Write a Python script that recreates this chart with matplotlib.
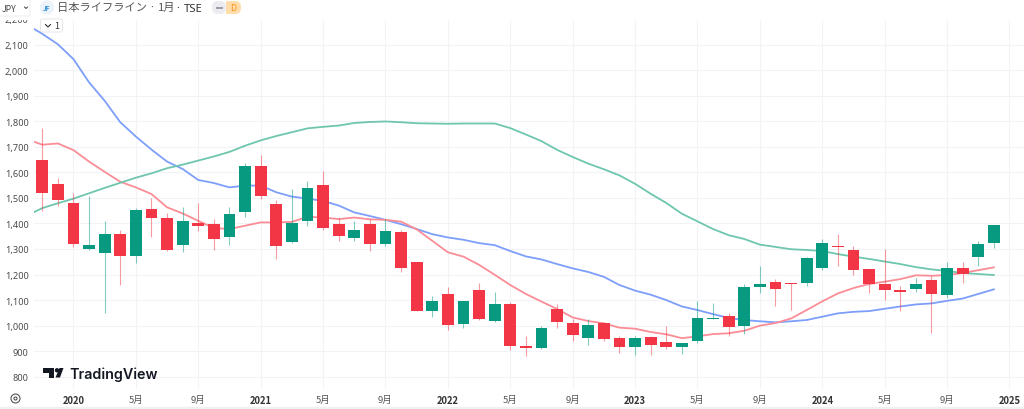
import matplotlib
matplotlib.use("Agg")
import matplotlib.pyplot as plt
from matplotlib.patches import Rectangle, Polygon, Circle, FancyBboxPatch
import numpy as np

JP = ['Noto Sans CJK JP', 'DejaVu Sans']
plt.rcParams['font.family'] = JP

opens = [1650,1553,1478,1300,1285,1358,1272,1455,1420,1315,1403,1398,1348,1443,1625,1477,1328,1408,1550,1398,
         1341,1397,1320,1365,1250,1057,1122,1007,1139,1017,1083,920,912,1065,1010,950,1009,953,918,957,936,915,
         941,1026,1037,1000,1152,1171,1166,1167,1224,1310,1296,1221,1164,1139,1143,1178,1120,1227,1267,1323]
highs = [1775,1577,1520,1508,1408,1375,1460,1500,1440,1465,1480,1418,1465,1637,1668,1490,1535,1565,1607,1420,
         1410,1417,1417,1374,1250,1117,1150,1095,1167,1133,1094,959,998,1084,1026,1024,1013,959,959,961,998,932,
         1095,1090,1048,1163,1232,1182,1166,1270,1339,1358,1311,1221,1300,1154,1186,1195,1249,1249,1330,1395]
lows = [1450,1470,1308,1295,1050,1158,1245,1345,1292,1290,1370,1295,1315,1425,1495,1262,1325,1390,1375,1330,
        1332,1293,1313,1211,1057,1032,984,990,1021,1013,906,881,907,991,941,925,941,894,885,885,908,889,
        933,1026,958,968,1126,1075,1062,1154,1217,1233,1199,1129,1100,1058,1133,971,1108,1167,1235,1305]
closes = [1518,1490,1318,1315,1360,1272,1452,1420,1295,1410,1390,1340,1437,1625,1507,1310,1400,1540,1383,1350,
          1374,1320,1371,1224,1057,1097,1001,1095,1026,1086,920,914,989,1014,965,1004,946,915,950,924,915,932,
          1028,1030,995,1152,1164,1143,1164,1263,1323,1306,1217,1163,1138,1131,1163,1122,1225,1203,1319,1392]

# moving averages; first value belongs to the month before the first candle
ma_blue = [2178,2142,2101,2043,1952,1880,1796,1740,1689,1642,1613,1570,1558,1541,1548,1548,1522,1505,1497,1488,1470,
           1443,1429,1414,1397,1378,1358,1345,1336,1323,1315,1292,1271,1259,1241,1224,1210,1191,1159,1137,1121,1100,1075,
           1061,1045,1030,1022,1017,1013,1017,1022,1035,1048,1054,1057,1066,1075,1083,1087,1097,1106,1124,1142]
ma_red = [1730,1708,1713,1687,1642,1602,1563,1541,1515,1463,1439,1410,1382,1378,1391,1404,1404,1406,1426,1423,1417,
          1423,1416,1414,1407,1377,1332,1287,1270,1238,1199,1159,1124,1094,1065,1032,1018,1009,992,988,975,966,951,
          958,967,970,980,1000,1010,1028,1061,1095,1126,1147,1163,1172,1182,1197,1195,1198,1206,1217,1228]
ma_green = [1430,1460,1479,1497,1518,1539,1559,1579,1596,1616,1630,1646,1662,1680,1704,1725,1742,1757,1772,1778,1783,
            1793,1797,1799,1796,1792,1791,1790,1791,1791,1791,1773,1748,1722,1688,1660,1634,1612,1588,1555,1516,1480,1438,
            1408,1378,1354,1339,1317,1308,1299,1296,1292,1280,1270,1261,1251,1241,1229,1220,1214,1206,1202,1198]

y_ticks = [800,900,1000,1100,1200,1300,1400,1500,1600,1700,1800,1900,2000,2100,2200]
x_labels = ['2020','5月','9月','2021','5月','9月','2022','5月','9月','2023','5月','9月','2024','5月','9月','2025']
x_label_months = [2,6,10,14,18,22,26,30,34,38,42,46,50,54,58,62]

RED, GREEN = '#F23645', '#089981'
W, H = 1024, 410
fig = plt.figure(figsize=(W/100, H/100), dpi=100, facecolor='white')

L, R, T, B = 34, 1024, 20, 390
ax = fig.add_axes([L/W, 1-B/H, (R-L)/W, (B-T)/H])
ax.set_xlim(-0.53, 62.93)
ax.set_ylim(752, 2199)
for s in ax.spines.values():
    s.set_visible(False)

ax.set_yticks(y_ticks)
ax.set_yticklabels([f'{v:,}' for v in y_ticks], fontsize=6.6, color='#4a4a4a', family=['Noto Sans', 'DejaVu Sans'])
ax.set_xticks(x_label_months)
ax.set_xticklabels(x_labels, fontsize=6.8, color='#555555')
for t, lab in zip(ax.get_xticklabels(), x_labels):
    if lab.isdigit():
        t.set_fontweight('bold')
        t.set_color('#333333')
ax.tick_params(axis='both', length=0)
ax.tick_params(axis='y', pad=4)
ax.tick_params(axis='x', pad=4)
ax.grid(True, color='#f1f3f7', linewidth=0.8)
ax.set_axisbelow(True)

idx = np.arange(len(opens))
line_x = np.arange(-1, len(opens))
ax.plot(line_x, ma_blue, color='#7d9ffb', lw=1.3, zorder=2, solid_joinstyle='round')
ax.plot(line_x, ma_red, color='#fb8d96', lw=1.3, zorder=2, solid_joinstyle='round')
ax.plot(line_x, ma_green, color='#6ec6ae', lw=1.3, zorder=2, solid_joinstyle='round')

o, h, l, c = map(np.array, (opens, highs, lows, closes))
colors = [GREEN if b >= a else RED for a, b in zip(o, c)]
ax.vlines(idx, l, h, colors=colors, lw=0.8, alpha=0.5, zorder=3)
bottoms = np.minimum(o, c)
ax.bar(idx, np.abs(c - o), bottom=bottoms, width=0.76, color=colors,
       edgecolor='none', zorder=4)

# overlay in pixel coordinates for the chart furniture
ov = fig.add_axes([0, 0, 1, 1], zorder=10)
ov.set_xlim(0, W)
ov.set_ylim(H, 0)
ov.axis('off')
ov.patch.set_alpha(0)
ov.add_patch(Rectangle((0, 0), W, 19.5, color='white', zorder=1))
ov.add_patch(Rectangle((0, 408), W, 2, color='#f0f1f4', zorder=1))

# currency button
ov.add_patch(FancyBboxPatch((-4, -4), 34, 21, boxstyle='round,pad=0,rounding_size=2', fc='white', ec='#eeeeee', lw=0.7, zorder=2))
ov.text(2, 9, 'JPY', fontsize=6.2, color='#444444', va='center', ha='left', zorder=3)
ov.plot([24.5, 26, 27.5], [8, 9.5, 8], color='#444444', lw=0.7, zorder=3)

# symbol icon and title
ov.add_patch(Circle((47, 8.5), 6.5, color='#edf3fb', zorder=2))
ov.text(47, 8.5, 'JF', fontsize=4.6, color='#2a8fd8', fontweight='bold', ha='center', va='center', style='italic', zorder=3)
ov.text(57, 8, '日本ライフライン', fontsize=8.1, color='#555555', ha='left', va='center', zorder=3)
ov.text(152, 8.5, '·', fontsize=8.1, color='#555555', ha='center', va='center', family=['Noto Sans'], zorder=3)
ov.text(158, 8, '1月', fontsize=8.1, color='#555555', ha='left', va='center', zorder=3)
ov.text(178, 9, '·', fontsize=8.1, color='#333333', ha='center', va='center', family=['Noto Sans'], zorder=3)
ov.text(184, 9, 'TSE', fontsize=8.1, color='#333333', ha='left', va='center', family=['Noto Sans'], zorder=3)

# status badge
ov.add_patch(FancyBboxPatch((212, 2), 14, 13, boxstyle='round,pad=0,rounding_size=6', fc='#ececf0', ec='none', zorder=2))
ov.add_patch(FancyBboxPatch((226, 2), 15, 13, boxstyle='round,pad=0,rounding_size=6', fc='#ffdcaa', ec='none', zorder=2))
ov.add_patch(Rectangle((226, 2), 5, 13, fc='#ffdcaa', ec='none', zorder=2))
ov.add_patch(Rectangle((216, 7.5), 7, 2, fc='#9a9ea8', ec='none', zorder=3))
ov.text(233, 8.5, 'D', fontsize=6.4, color='#f7931a', ha='center', va='center', zorder=3)

# collapse button
ov.add_patch(FancyBboxPatch((40.5, 20), 22, 13, boxstyle='round,pad=0,rounding_size=2', fc='white', ec='#e6e6ea', lw=0.7, zorder=2))
ov.plot([45.5, 48, 50.5], [25.5, 28, 25.5], color='#333333', lw=0.8, zorder=3)
ov.text(57, 26.5, '1', fontsize=6.4, color='#333333', ha='center', va='center', zorder=3)

# gear-like circle at the axis corner
ov.add_patch(Circle((15.5, 399.5), 4.5, fc='none', ec='#555555', lw=0.8, zorder=3))
ov.add_patch(Circle((15.5, 399.5), 1.5, fc='none', ec='#555555', lw=0.8, zorder=3))

# logo
LOGO = '#131722'
ov.add_patch(Polygon([(42.7, 369), (54, 369), (54, 378.5), (48.5, 378.5), (48.5, 373.5), (42.7, 373.5)], fc=LOGO, ec='none', zorder=3))
ov.add_patch(Circle((57, 371.3), 2.2, fc=LOGO, ec='none', zorder=3))
ov.add_patch(Polygon([(55.5, 378.5), (60, 378.5), (63.5, 369), (59.5, 369)], fc=LOGO, ec='none', zorder=3))
ov.text(69, 374.5, 'TradingView', fontsize=10.3, color=LOGO, ha='left', va='center',
        family=['Inter', 'DejaVu Sans'], fontweight='semibold', zorder=3)

fig.savefig('out.png', dpi=100, facecolor='white')
